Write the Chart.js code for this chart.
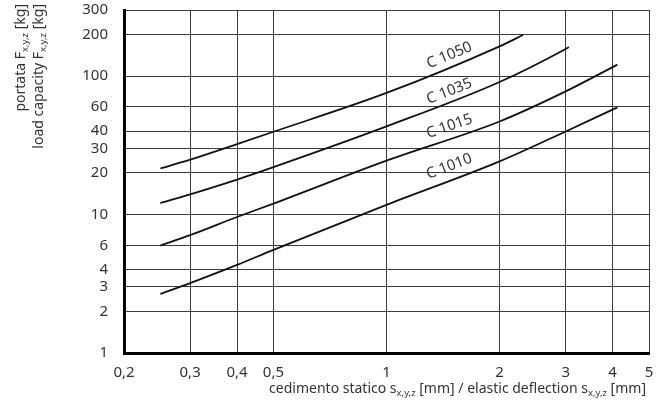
<!DOCTYPE html>
<html><head><meta charset="utf-8">
<script src="https://cdn.jsdelivr.net/npm/chart.js@4/dist/chart.umd.min.js"></script>
<style>html,body{margin:0;padding:0;background:#fff}canvas{display:block}</style>
</head><body>
<canvas id="c" width="656" height="414"></canvas>
<script>
// ---- data ----
const xTicks = [0.2, 0.3, 0.4, 0.5, 1, 2, 3, 4, 5];
const yTicks = [1, 2, 3, 4, 6, 10, 20, 30, 40, 60, 100, 200, 300];
const seriesNames = ['C 1050', 'C 1035', 'C 1015', 'C 1010'];
const x1050 = [0.25, 0.3, 0.4, 0.5, 1, 2, 2.31];
const y1050 = [21.5, 24.9, 32.3, 39.6, 75.5, 164, 198];
const x1035 = [0.25, 0.3, 0.4, 0.5, 1, 2, 3, 3.06];
const y1035 = [12.1, 14.0, 17.9, 22.0, 43.3, 90.6, 157, 162];
const x1015 = [0.25, 0.3, 0.4, 0.5, 1, 2, 3, 4.12];
const y1015 = [5.97, 7.1, 9.6, 12.0, 24.5, 47, 77.5, 121];
const x1010 = [0.25, 0.3, 0.4, 0.5, 1, 2, 3, 4.12];
const y1010 = [2.67, 3.2, 4.33, 5.56, 11.75, 24.2, 39.8, 59.4];
// curve label anchors (data coordinates)
const labelX = [1.47, 1.47, 1.47, 1.47];
const labelY = [141, 77.5, 43.3, 22.2];

const FONT = '"Noto Sans", sans-serif';
const TXT = '#333';

const seriesX = [x1050, x1035, x1015, x1010];
const seriesY = [y1050, y1035, y1015, y1010];

const datasets = seriesNames.map((n, i) => ({
  label: n,
  data: seriesX[i].map((v, k) => ({x: v, y: seriesY[i][k]})),
  borderColor: '#111',
  borderWidth: 1.8,
  pointRadius: 0,
  fill: false,
  cubicInterpolationMode: 'monotone'
}));

function drawRich(ctx, parts, x, y, align, size, subSize) {
  let total = 0;
  const widths = parts.map(p => {
    ctx.font = (p.sub ? subSize : size) + 'px ' + FONT;
    const w = ctx.measureText(p.t).width;
    total += w;
    return w;
  });
  let cx = align === 'right' ? x - total : x;
  parts.forEach((p, i) => {
    ctx.font = (p.sub ? subSize : size) + 'px ' + FONT;
    ctx.fillText(p.t, cx, y + (p.sub ? 3 : 0));
    cx += widths[i];
  });
}

const annot = {
  id: 'annot',
  afterDatasetsDraw(chart) {
    const {ctx, scales: {x, y}} = chart;
    ctx.save();
    ctx.fillStyle = TXT;
    ctx.textAlign = 'center';
    ctx.textBaseline = 'middle';
    ctx.font = '15px ' + FONT;
    chart.data.datasets.forEach((ds, i) => {
      const pts = ds.data;
      let a = pts[0], b = pts[1];
      for (let k = 0; k < pts.length - 1; k++) {
        if (pts[k].x <= labelX[i] && pts[k + 1].x >= labelX[i]) { a = pts[k]; b = pts[k + 1]; }
      }
      const ang = Math.atan2(y.getPixelForValue(b.y) - y.getPixelForValue(a.y),
                             x.getPixelForValue(b.x) - x.getPixelForValue(a.x));
      ctx.save();
      ctx.translate(x.getPixelForValue(labelX[i]), y.getPixelForValue(labelY[i]));
      ctx.rotate(ang);
      ctx.fillText(seriesNames[i], 0, 0);
      ctx.restore();
    });
    ctx.textAlign = 'left';
    ctx.textBaseline = 'alphabetic';
    // x title
    drawRich(ctx, [
      {t: 'cedimento statico s'}, {t: 'x,y,z', sub: true}, {t: ' [mm] / elastic deflection s'},
      {t: 'x,y,z', sub: true}, {t: ' [mm]'}
    ], 646, 393, 'right', 14, 9.5);
    // y titles
    ctx.save();
    ctx.translate(25, 4);
    ctx.rotate(-Math.PI / 2);
    drawRich(ctx, [{t: 'portata F'}, {t: 'x,y,z', sub: true}, {t: ' [kg]'}], 0, 0, 'right', 14, 9.5);
    ctx.restore();
    ctx.save();
    ctx.translate(43, 4);
    ctx.rotate(-Math.PI / 2);
    drawRich(ctx, [{t: 'load capacity F'}, {t: 'x,y,z', sub: true}, {t: ' [kg]'}], 0, 0, 'right', 14, 9.5);
    ctx.restore();
    ctx.restore();
  }
};

new Chart(document.getElementById('c'), {
  type: 'line',
  data: {datasets},
  plugins: [annot],
  options: {
    responsive: false,
    animation: false,
    devicePixelRatio: 1,
    layout: {padding: {top: 10, right: 7, left: 0, bottom: 0}},
    plugins: {legend: {display: false}, tooltip: {enabled: false}},
    scales: {
      x: {
        type: 'logarithmic', min: 0.2, max: 5,
        afterBuildTicks: s => { s.ticks = xTicks.map(v => ({value: v})); },
        afterFit: s => { s.height = 61; s.paddingLeft = 0; s.paddingRight = 0; },
        ticks: {
          callback: v => String(v).replace('.', ','),
          autoSkip: false, maxRotation: 0, padding: 11,
          color: TXT, font: {family: FONT, size: 15}
        },
        grid: {color: '#3c3c3c', lineWidth: 1, drawTicks: false},
        border: {color: '#000', width: 3}
      },
      y: {
        type: 'logarithmic', min: 1, max: 300,
        afterBuildTicks: s => { s.ticks = yTicks.map(v => ({value: v})); },
        afterFit: s => { s.width = 124; s.paddingTop = 0; s.paddingBottom = 0; },
        ticks: {
          callback: v => String(v),
          autoSkip: false, padding: 16,
          color: TXT, font: {family: FONT, size: 15}
        },
        grid: {color: '#3c3c3c', lineWidth: 1, drawTicks: false},
        border: {color: '#000', width: 3}
      }
    }
  }
});
</script>
</body></html>
